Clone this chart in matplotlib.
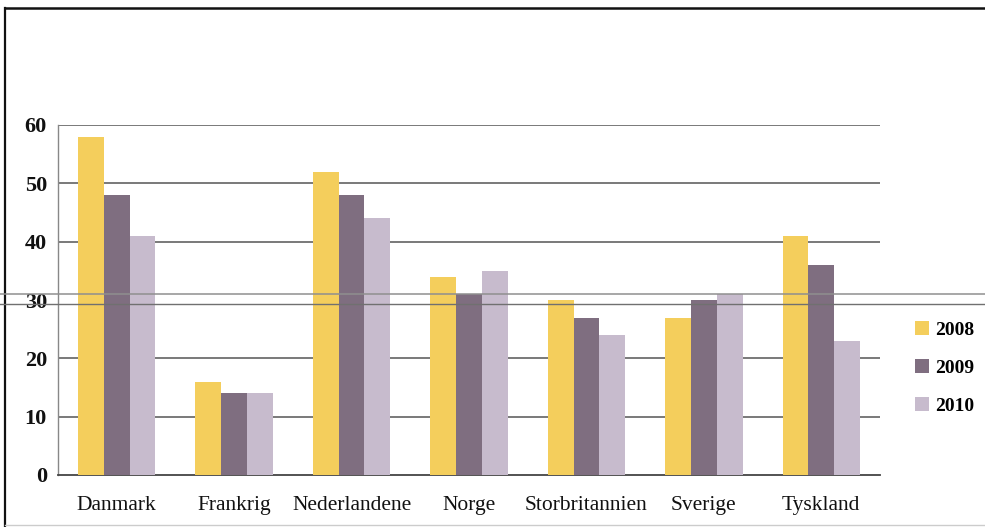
import matplotlib
matplotlib.use("Agg")
import matplotlib.pyplot as plt
from matplotlib.lines import Line2D
import numpy as np

countries = ["Danmark", "Frankrig", "Nederlandene", "Norge",
             "Storbritannien", "Sverige", "Tyskland"]
years = ["2008", "2009", "2010"]
v2008 = [58, 16, 52, 34, 30, 27, 41]
v2009 = [48, 14, 48, 31, 27, 30, 36]
v2010 = [41, 14, 44, 35, 24, 31, 23]
yticks = [0, 10, 20, 30, 40, 50, 60]

colors = ["#F4CE5C", "#7F6E80", "#C7BBCD"]
plt.rcParams["font.family"] = ["Liberation Serif", "DejaVu Serif"]

W, H = 985, 527
fig = plt.figure(figsize=(W / 100, H / 100), dpi=100)
ax = fig.add_axes([58 / W, 1 - 475 / H, (880 - 58) / W, (475 - 125) / H])

x = np.arange(len(countries))
bw = 0.22
for i, (vals, c, lab) in enumerate(zip([v2008, v2009, v2010], colors, years)):
    ax.bar(x + (i - 1) * bw, vals, width=bw, color=c, label=lab, zorder=3)

ax.set_xlim(-0.5, len(countries) - 0.5)
ax.set_ylim(0, 60)
ax.set_yticks(yticks)
ax.set_yticklabels([str(t) for t in yticks], fontsize=16, fontweight="bold")
ax.set_xticks(x)
ax.set_xticklabels(countries, fontsize=15.5)
ax.tick_params(axis="both", length=0, colors="#111111")
ax.tick_params(axis="y", pad=8)
ax.tick_params(axis="x", pad=15)

for t in yticks:
    if t in (0, 30):
        continue
    ax.axhline(t, color="#555555", lw=1.1, zorder=1)

for s in ["top", "right"]:
    ax.spines[s].set_visible(False)
ax.spines["left"].set_color("#888888")
ax.spines["left"].set_linewidth(1.0)
ax.spines["bottom"].set_color("#444444")
ax.spines["bottom"].set_linewidth(1.3)

leg = ax.legend(loc="center left", bbox_to_anchor=(1.043, 0.305), frameon=False,
                prop={"size": 14, "weight": "bold"}, handlelength=0.7,
                handleheight=0.7, handletextpad=0.3, labelspacing=1.05,
                borderaxespad=0, borderpad=0)

# outer frame
fig.add_artist(Line2D([5 / W, 5 / W], [0, 1 - 8 / H], color="#111111", lw=1.6))
fig.add_artist(Line2D([5 / W, 1], [1 - 8 / H, 1 - 8 / H], color="#111111", lw=1.8))
fig.add_artist(Line2D([5 / W, 1], [1 - 525 / H, 1 - 525 / H], color="#cccccc", lw=1.0))

# two long rules across the page near the 30 level
fig.add_artist(Line2D([0, 1], [1 - 294 / H, 1 - 294 / H], color="#8f8f8f", lw=1.1, zorder=5))
fig.add_artist(Line2D([0, 1], [1 - 304 / H, 1 - 304 / H], color="#707070", lw=1.0, zorder=5))

fig.savefig("out.png", dpi=100)
